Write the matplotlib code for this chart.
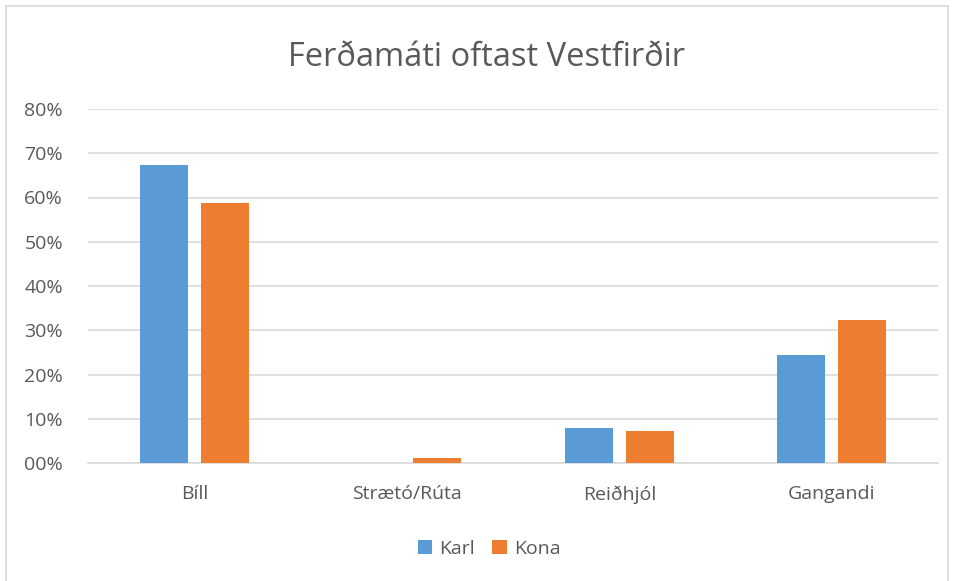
import matplotlib
matplotlib.use("Agg")
import matplotlib.pyplot as plt
import numpy as np
from matplotlib.patches import Rectangle

categories = ["Bíll", "Strætó/Rúta", "Reiðhjól", "Gangandi"]
karl = [67.3, 0.0, 7.9, 24.3]
kona = [58.8, 1.1, 7.3, 32.4]
series_names = ["Karl", "Kona"]
yticks = [0, 10, 20, 30, 40, 50, 60, 70, 80]
ytick_labels = ["00%", "10%", "20%", "30%", "40%", "50%", "60%", "70%", "80%"]

plt.rcParams['font.family'] = ['Open Sans', 'DejaVu Sans']
fig = plt.figure(figsize=(9.55, 5.81), dpi=100)
ax = fig.add_axes([88/955, 1-463/581, 850/955, (463-109)/581])

x = np.arange(len(categories))
w = 0.226
off = 0.1435
ax.bar(x - off, karl, w, color="#5B9BD5", label=series_names[0], zorder=3)
ax.bar(x + off, kona, w, color="#ED7D31", label=series_names[1], zorder=3)

ax.set_xlim(-0.5, len(categories) - 0.5)
ax.set_ylim(0, 80)
ax.set_yticks(yticks)
ax.set_yticklabels(ytick_labels)
ax.set_xticks(x)
ax.set_xticklabels(categories)
ax.yaxis.grid(True, color="#d9d9d9", linewidth=1.2, zorder=0)
ax.tick_params(axis='both', length=0, colors="#595959", labelsize=14)
ax.tick_params(axis='y', pad=18)
ax.tick_params(axis='x', pad=16)
for s in ["top", "right", "left"]:
    ax.spines[s].set_visible(False)
ax.spines["bottom"].set_color("#d9d9d9")
ax.spines["bottom"].set_linewidth(1.2)

fig.text(486/955, 1-57/581, "Ferðamáti oftast Vestfirðir", ha="center", va="center",
         fontsize=23.5, color="#595959")

leg = fig.legend(loc="center", bbox_to_anchor=(489/955, 1-549/581), ncol=2, frameon=False,
                 fontsize=14, handlelength=0.75, handleheight=0.75, handletextpad=0.35,
                 columnspacing=0.9)
for t in leg.get_texts():
    t.set_color("#595959")

fig.patches.append(Rectangle((6/955, -0.01), (948-6)/955, 1.0, transform=fig.transFigure,
                             fill=False, edgecolor="#d9d9d9", linewidth=1.2))

fig.savefig("out.png", dpi=100)
